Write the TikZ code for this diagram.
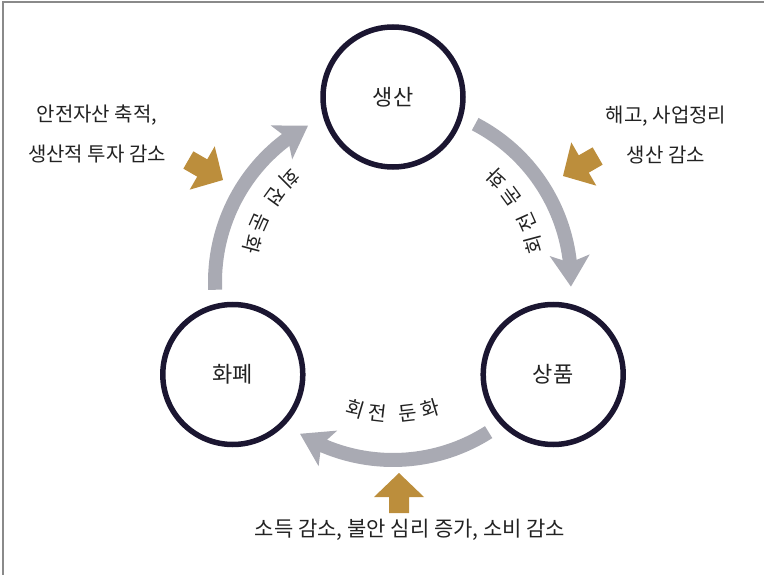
\documentclass[tikz,border=0pt]{standalone}
\usepackage{fontspec}
\setmainfont{Noto Sans CJK KR}
\usetikzlibrary{arrows.meta,bending,calc}
\definecolor{ringc}{HTML}{1B1631}
\definecolor{flowgray}{HTML}{A9AAB3}
\definecolor{goldc}{HTML}{BC8E3C}
\definecolor{txt}{HTML}{222222}
\definecolor{framec}{HTML}{8A8A8A}
\begin{document}
\begin{tikzpicture}[x=1pt,y=1pt,
  stage/.style={circle, draw=ringc, line width=5.5pt, minimum size=140pt, inner sep=0pt,
                font=\fontsize{22}{25}\selectfont, text=txt},
  flow/.style={draw=flowgray, line width=14pt, -{Stealth[length=31pt,width=39pt,inset=7pt]}},
  note/.style={font=\fontsize{20}{40}\selectfont, text=txt, align=center},
  lab/.style={font=\fontsize{20}{22}\selectfont, text=txt, inner sep=0pt},
  push/.style={fill=goldc}]
\useasboundingbox (0,0) rectangle (764,-575);
\draw[framec, line width=1.2pt] (3,-575) -- (3,-2) -- (764,-2);
\coordinate (C) at (393,-282);
\node[stage] (prod) at ($(C)+(90:185)$) {생산};
\node[stage] (goods) at ($(C)+(-30:185)$) {상품};
\node[stage] (money) at ($(C)+(210:185)$) {화폐};
% circulating flows
\foreach \a [count=\i] in {0,-120,120} {
  \pgfmathsetmacro{\sa}{62.5+\a}
  \pgfmathsetmacro{\ea}{-1.5+\a}
  \coordinate (fs\i) at ($(C)+(\sa:178)$);
  \draw[flow] (fs\i) arc[start angle=\sa, end angle=\ea, radius=178];
}
% curved labels
\foreach \base/\r/\o/\p [count=\i] in {-90/132/6.6/16.5, 30/146/6.0/15, 150/146/6.0/15} {
  \pgfmathsetmacro{\aA}{\base-\p}
  \pgfmathsetmacro{\aB}{\base-\o}
  \pgfmathsetmacro{\aC}{\base+\o}
  \pgfmathsetmacro{\aD}{\base+\p}
  \node[lab, rotate=\aA+90] (l\i a) at ($(C)+(\aA:\r)$) {회};
  \node[lab, rotate=\aB+90] (l\i b) at ($(C)+(\aB:\r)$) {전};
  \node[lab, rotate=\aC+90] (l\i c) at ($(C)+(\aC:\r)$) {둔};
  \node[lab, rotate=\aD+90] (l\i d) at ($(C)+(\aD:\r)$) {화};
}
% gold pressure arrows
\foreach \d/\tx/\ty in {90/399/-473, 210/563/-176, 330/223/-180} {
  \fill[push, shift={(\tx,\ty)}, rotate=\d]
    (0,0) -- (-24,25) -- (-24,10) -- (-40,10) -- (-40,-10) -- (-24,-10) -- (-24,-25) -- cycle;
}
\node[note] (inL) at (97,-134) {안전자산 축적,\\생산적 투자 감소};
\node[note] (inR) at (666,-135) {해고, 사업정리\\생산 감소};
\node[note, font=\fontsize{21}{40}\selectfont] (inB) at (410,-530) {소득 감소, 불안 심리 증가, 소비 감소};
\end{tikzpicture}
\end{document}
